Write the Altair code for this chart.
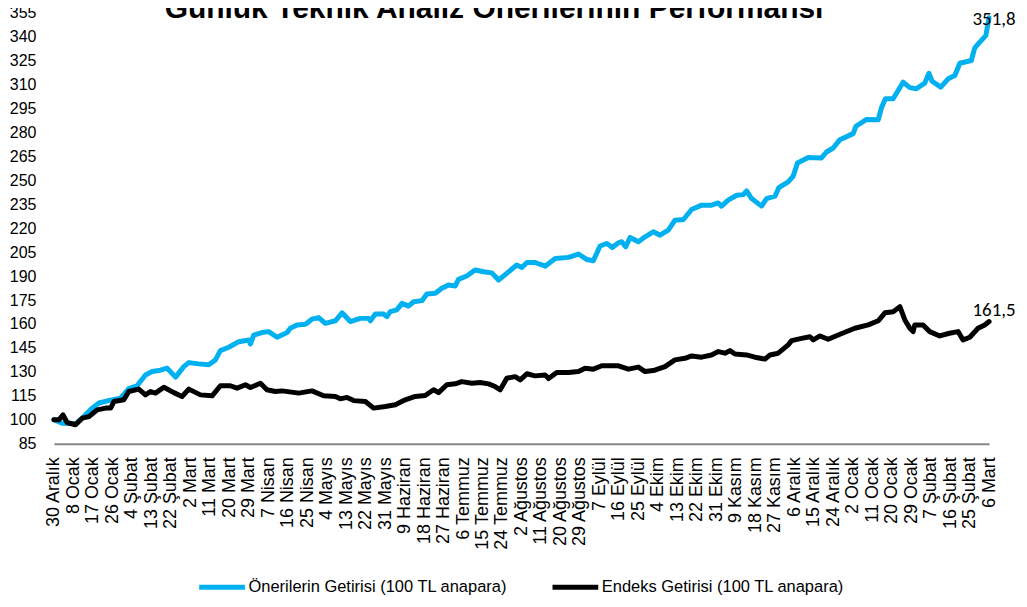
import json
import altair as alt
import pandas as pd

title_text = "Günlük Teknik Analiz Önerilerinin Performansı"

series_names = ["Önerilerin Getirisi (100 TL anapara)", "Endeks Getirisi (100 TL anapara)"]
series_colors = ["#00B0F0", "#000000"]

x_labels = ['30 Aralık', '8 Ocak', '17 Ocak', '26 Ocak', '4 Şubat', '13 Şubat', '22 Şubat',
            '2 Mart', '11 Mart', '20 Mart', '29 Mart', '7 Nisan', '16 Nisan', '25 Nisan',
            '4 Mayıs', '13 Mayıs', '22 Mayıs', '31 Mayıs', '9 Haziran', '18 Haziran', '27 Haziran',
            '6 Temmuz', '15 Temmuz', '24 Temmuz', '2 Ağustos', '11 Ağustos', '20 Ağustos',
            '29 Ağustos', '7 Eylül', '16 Eylül', '25 Eylül', '4 Ekim', '13 Ekim', '22 Ekim',
            '31 Ekim', '9 Kasım', '18 Kasım', '27 Kasım', '6 Aralık', '15 Aralık', '24 Aralık',
            '2 Ocak', '11 Ocak', '20 Ocak', '29 Ocak', '7 Şubat', '16 Şubat', '25 Şubat', '6 Mart']
label_step_days = 9

y_ticks = list(range(85, 356, 15))

# Önerilerin Getirisi: day offset from 30 Aralık and value
oneri_days = [0, 3.8, 10, 13.8, 17.7, 20.8, 26.2, 30.8, 34.6, 38.4, 42.3, 45.4, 48.5, 52.3, 56.2,
              60, 62.3, 66.9, 71.5, 74.6, 76.9, 80.8, 85.4, 90, 90.8, 92.3, 96.1, 99.2, 103.1,
              107.7, 109.2, 112.3, 116.2, 119.2, 122.3, 125.4, 130, 133.1, 136.9, 141.5, 145.4,
              146.2, 148.5, 152.3, 153.8, 155.4, 158.4, 160.8, 163.8, 166.2, 170, 172.3, 176.2,
              179.2, 182.3, 185.4, 186.9, 190.7, 194.6, 198.5, 202.3, 205.4, 209.2, 213.8, 216.2,
              218.5, 222.3, 226.9, 231.6, 237.7, 242.3, 246.1, 249.2, 252.3, 255.4, 258, 260.8,
              262.3, 264.1, 266.2, 270, 273.1, 276.9, 280, 283.8, 286.9, 290.8, 294.6, 299.2,
              303.8, 306.9, 308.4, 311.5, 315.4, 318.5, 320, 322.3, 326.9, 329.2, 333.1, 334.9,
              339.2, 341.5, 343.5, 348.5, 354.6, 356.9, 360, 363.1, 369.2, 370.5, 375.4, 380.8,
              382.3, 384.1, 387.7, 392.3, 395.4, 398.4, 402.3, 404.2, 405.7, 409.7, 413.1, 416.2,
              418.5, 423.8, 425.4, 427.7, 430.5, 432]
oneri_values = [100, 97.8, 97.5, 102, 107.3, 110.5, 112.3, 113.5, 119.5, 121.3, 128, 130.2, 130.8,
                132.3, 126.7, 133.3, 135.8, 135, 134.4, 137.5, 143.3, 145.4, 148.9, 150, 147.5, 153,
                154.6, 155.2, 151.7, 154.6, 157.3, 159.4, 159.8, 163, 164, 160.4, 162, 167, 161.5,
                163.5, 163.5, 162, 166.2, 166.2, 164.6, 167.7, 168.8, 172.9, 171.2, 173.9, 174.6,
                178.8, 179.2, 182.3, 184.4, 183.8, 187.9, 190, 193.8, 192.7, 192, 187.5, 191.7,
                196.9, 195.4, 198.5, 198.5, 196.2, 201, 201.7, 203.8, 200.4, 199.6, 208.8, 210.4,
                207.9, 210.8, 211.5, 208.3, 214.2, 211.5, 214.6, 217.7, 215.6, 218.8, 225, 225.4,
                231.7, 234.4, 234.4, 235.8, 233.8, 237.5, 240.6, 241, 243.3, 238.5, 233.8, 238.5,
                240, 245.4, 249, 252.5, 260.8, 264.2, 264, 267.7, 270.2, 275.4, 279.2, 283.8, 288.1,
                287.9, 295.4, 301, 301, 311.4, 308, 307.3, 310.8, 317, 312, 308.3, 313.5, 315.6,
                323.3, 325, 332.9, 336.5, 340.6, 351.8]

# Endeks Getirisi
endeks_days = [0, 2.3, 4.2, 6.1, 10, 13.1, 16.2, 20, 23.9, 26.2, 27.7, 32.3, 34.6, 39.2, 42.3, 44.6,
               46.9, 50.8, 55.4, 59.2, 62.3, 67.7, 73.1, 76.9, 81.5, 84.6, 88.5, 90.8, 95.4, 98.4,
               102.3, 105.4, 111.5, 113.1, 119.2, 124.6, 130, 132.3, 135.4, 138.5, 143.9, 147.7,
               153.1, 157.7, 162.3, 166.9, 171.5, 175.4, 177.7, 181.5, 185.4, 188.4, 193.1, 196.9,
               200.8, 203.8, 206.2, 209.2, 213.1, 215.4, 218.5, 222.3, 226.9, 228.5, 232.3, 237.7,
               242.3, 245.4, 249.2, 253.1, 257.7, 260.8, 265.4, 270, 273.1, 276.9, 282.3, 286.9,
               291.5, 294.6, 299.2, 303.8, 306.9, 310, 312.3, 314.6, 320, 323.8, 328.5, 330.8,
               334.6, 339.2, 340.8, 345.4, 349.2, 350.8, 353.9, 357.7, 362.3, 370, 376.2, 380.8,
               383.9, 387.7, 390.8, 393.1, 395.4, 396.9, 397.7, 401.5, 404.6, 409.2, 413.7, 417.7,
               420, 423.1, 426.9, 430, 432]
endeks_values = [100, 100, 103, 98.3, 96.9, 101, 102, 106.2, 107.3, 107.3, 111.4, 112.5, 117.7,
                 119.2, 115.6, 117.7, 116.7, 120.4, 117, 114.6, 119.2, 115.6, 115, 121.3, 121.3,
                 119.8, 121.9, 120.2, 122.9, 118.8, 117.7, 118.1, 117, 116.7, 118.1, 115, 114.6,
                 113.1, 114, 112, 111.4, 107.3, 108.3, 109.4, 112.5, 114.6, 115.2, 118.8, 117,
                 121.9, 122.5, 123.9, 122.9, 123.3, 122.5, 120.8, 118.8, 126, 127, 125, 128.8,
                 127.5, 128.1, 125.8, 129.6, 129.6, 130.2, 132.3, 131.7, 133.8, 133.8, 133.8, 131.7,
                 133, 130.2, 130.8, 133.3, 137.5, 138.5, 140, 139.2, 140.6, 142.7, 141.7, 143.3,
                 141.2, 140.6, 139.2, 138, 140.6, 141.7, 146.9, 149.6, 151, 152, 150, 152.5, 150.4,
                 153.1, 157.3, 159.4, 162, 167, 167.7, 170.8, 162.5, 157.3, 155.2, 159.4, 159.4,
                 155.2, 152.5, 154.2, 155.2, 150, 151.7, 157.3, 159.4, 161.5]

rows = []
for d, v in zip(oneri_days, oneri_values):
    rows.append({"seri": series_names[0], "gun": d, "deger": v})
for d, v in zip(endeks_days, endeks_values):
    rows.append({"seri": series_names[1], "gun": d, "deger": v})
df = pd.DataFrame(rows)


def last_label(name, days, values):
    return pd.DataFrame([{"seri": name, "gun": days[-1], "deger": values[-1],
                          "etiket": f"{values[-1]:.1f}".replace(".", ",")}])


label_expr = json.dumps(x_labels, ensure_ascii=False) + f"[round(datum.value / {label_step_days})]"
x_values = [i * label_step_days for i in range(len(x_labels))]

x_enc = alt.X("gun:Q",
              scale=alt.Scale(domain=[0, x_values[-1]], nice=False, zero=False),
              axis=alt.Axis(values=x_values, labelExpr=label_expr, labelAngle=270,
                            title=None, grid=False, ticks=False, labelPadding=13,
                            domainColor="#868686", domainWidth=2,
                            labelFont="Liberation Sans", labelFontSize=18,
                            labelColor="#000000", labelOverlap=False, labelBound=False,
                            labelFlush=False))
y_enc = alt.Y("deger:Q",
              scale=alt.Scale(domain=[y_ticks[0], y_ticks[-1]], nice=False, zero=False),
              axis=alt.Axis(values=y_ticks, title=None, grid=False, ticks=False, domain=False,
                            labelPadding=18, labelFont="Liberation Sans",
                            labelFontSize=16, labelColor="#000000", labelOverlap=False,
                            labelFlush=False))

color_enc = alt.Color("seri:N",
                      scale=alt.Scale(domain=series_names, range=series_colors),
                      legend=alt.Legend(title=None, orient="none", direction="horizontal",
                                        legendX=143, legendY=550,
                                        symbolType="stroke", symbolSize=2100,
                                        symbolStrokeWidth=5, labelOffset=1,
                                        columnPadding=34, labelFont="Liberation Sans",
                                        labelFontSize=16.5, labelColor="#000000",
                                        labelLimit=400))

lines = alt.Chart(df).mark_line(strokeWidth=5, strokeJoin="round", strokeCap="round").encode(
    x=x_enc, y=y_enc, color=color_enc, order="gun:Q")

label_top = alt.Chart(last_label(series_names[0], oneri_days, oneri_values)).mark_text(
    font="Carlito, Lato", fontSize=19, align="center", baseline="alphabetic",
    dx=5, dy=7, color="#000000").encode(
    x=x_enc, y=y_enc, text="etiket:N")

label_bottom = alt.Chart(last_label(series_names[1], endeks_days, endeks_values)).mark_text(
    font="Carlito, Lato", fontSize=19, align="center", baseline="alphabetic",
    dx=5, dy=-6, color="#000000").encode(
    x=x_enc, y=y_enc, text="etiket:N")

title_mark = alt.Chart(pd.DataFrame({"t": [title_text]})).mark_text(
    font="Liberation Sans", fontSize=30, fontWeight="bold", align="center",
    baseline="alphabetic", color="#000000").encode(
    x=alt.value(441), y=alt.value(5), text="t:N")

chart = alt.layer(lines, label_top, label_bottom, title_mark).properties(
    width=937, height=432,
    autosize=alt.AutoSizeParams(type="none"),
    padding={"left": 46, "top": 4, "right": 30, "bottom": 160},
).configure_view(stroke=None).configure_axis(labelOverlap=False)

chart.save("out.html", embed_options={"renderer": "svg", "actions": False})
